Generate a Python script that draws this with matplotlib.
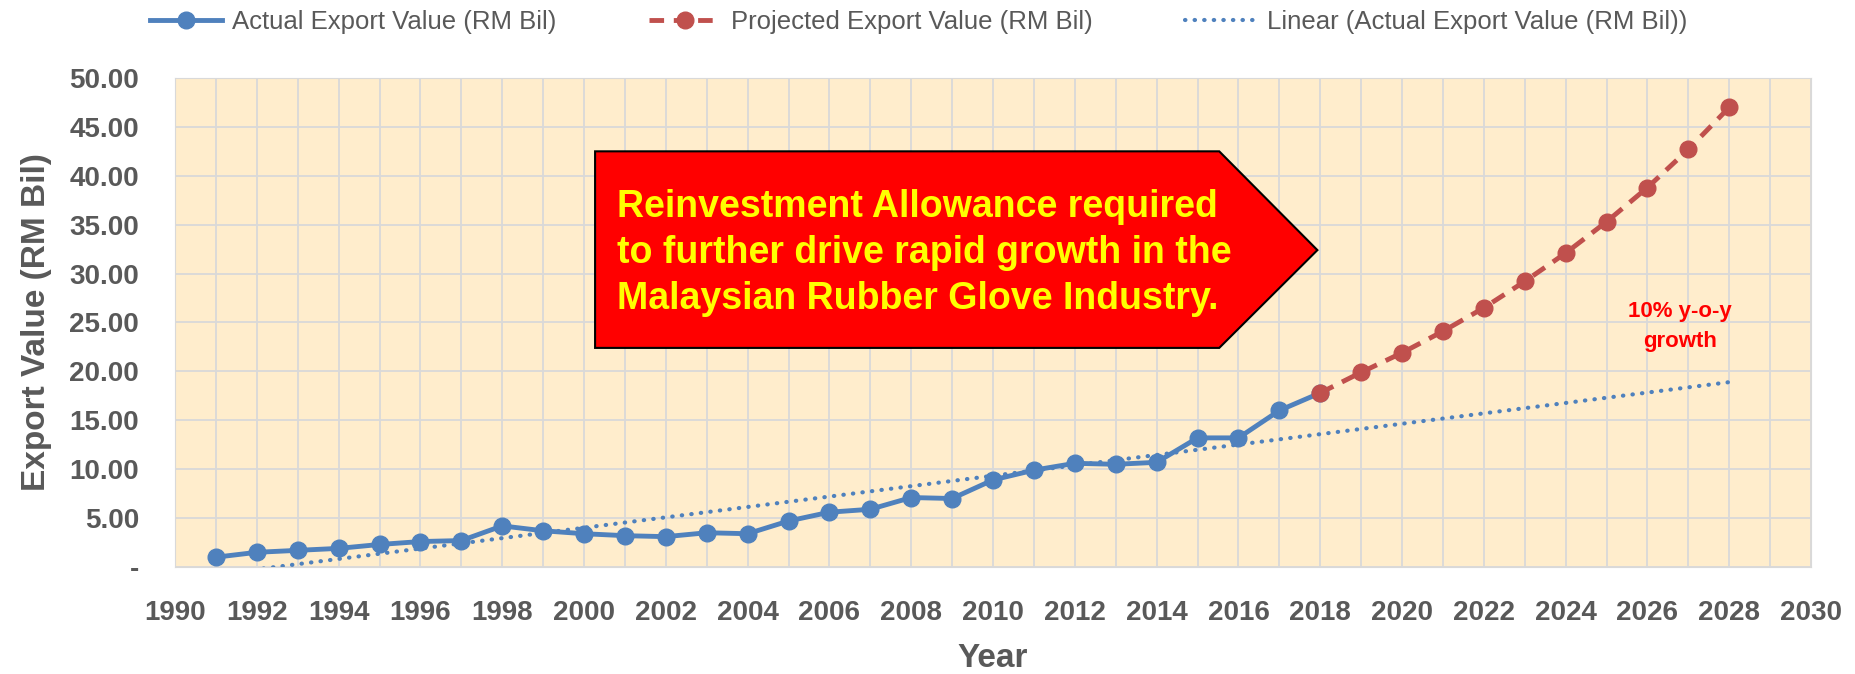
import numpy as np
import matplotlib.pyplot as plt
from matplotlib.patches import Polygon

# data
years_actual = list(range(1991, 2019))
export_actual = [1.0, 1.5, 1.7, 1.9, 2.3, 2.6, 2.7, 4.2, 3.7, 3.4, 3.2, 3.1, 3.5, 3.4,
                 4.7, 5.6, 5.9, 7.1, 7.0, 8.9, 9.9, 10.6, 10.5, 10.7, 13.2, 13.2, 16.0, 17.8]
years_proj = list(range(2018, 2029))
export_proj = [17.8, 19.9, 21.9, 24.1, 26.5, 29.2, 32.1, 35.3, 38.8, 42.7, 47.0]

plt.rcParams["font.family"] = ["Liberation Sans", "DejaVu Sans"]

gray = "#595959"
blue = "#4F81BD"
red = "#C0504D"

fig = plt.figure(figsize=(18.56, 6.74), dpi=100)
ax = fig.add_axes([0.0943, 0.1588, 0.8815, 0.7255])
ax.set_facecolor("#FFEDCC")

l1, = ax.plot(years_actual, export_actual, color=blue, lw=3.5, marker="o", ms=12,
              label="Actual Export Value (RM Bil)", zorder=4)
l2, = ax.plot(years_proj, export_proj, color=red, lw=3.5, ls=(0, (3, 2)), marker="o", ms=12,
              label="Projected Export Value (RM Bil)", zorder=4)

# linear trendline of actual values, extended 10 years forward
coef = np.polyfit(years_actual, export_actual, 1)
tx = np.array([1991, 2028])
l3, = ax.plot(tx, np.polyval(coef, tx), color=blue, lw=3, ls=(0, (0.1, 2.2)),
              dash_capstyle="round", label="Linear (Actual Export Value (RM Bil))", zorder=3)

ax.set_xlim(1990, 2030)
ax.set_ylim(0, 50)
ax.set_xticks(range(1990, 2031, 2))
ax.set_yticks(range(0, 51, 5))
ax.set_yticklabels(["-"] + [f"{v:.2f}" for v in range(5, 51, 5)])
ax.xaxis.set_minor_locator(plt.MultipleLocator(1))
ax.grid(True, which="both", color="#D9D9D9", lw=1.3)
ax.set_axisbelow(True)
ax.tick_params(length=0, which="both", labelsize=20, colors=gray)
ax.tick_params(axis="y", pad=26)
ax.tick_params(axis="x", pad=24)
for lab in ax.get_xticklabels() + ax.get_yticklabels():
    lab.set_fontweight("bold")
for s in ax.spines.values():
    s.set_color("#D9D9D9")

ax.set_xlabel("Year", fontsize=24, fontweight="bold", color=gray, labelpad=12)
ax.set_ylabel("Export Value (RM Bil)", fontsize=24, fontweight="bold", color=gray, labelpad=12)

# call-out arrow box
box = Polygon([(2000.27, 42.5), (2015.53, 42.5), (2017.93, 32.4), (2015.53, 22.4), (2000.27, 22.4)],
              closed=True, facecolor="#FF0000", edgecolor="black", lw=1.5, zorder=5)
ax.add_patch(box)
ax.text(2000.8, 32.1, "Reinvestment Allowance required\nto further drive rapid growth in the\nMalaysian Rubber Glove Industry.",
        color="#FFFF00", fontsize=27, fontweight="bold", va="center", ha="left",
        linespacing=1.35, zorder=6)
ax.text(2026.8, 24.6, "10% y-o-y\ngrowth", color="#FF0000", fontsize=16, fontweight="bold",
        ha="center", va="center", linespacing=1.6, zorder=6)

fig.legend(handles=[l1, l2, l3], loc="upper center", bbox_to_anchor=(0.495, 1.02), ncol=3,
           frameon=False, fontsize=18.5, labelcolor=gray, columnspacing=3.6, handlelength=2.8,
           handletextpad=0.4)

fig.savefig("out.png", dpi=100, facecolor="white")
